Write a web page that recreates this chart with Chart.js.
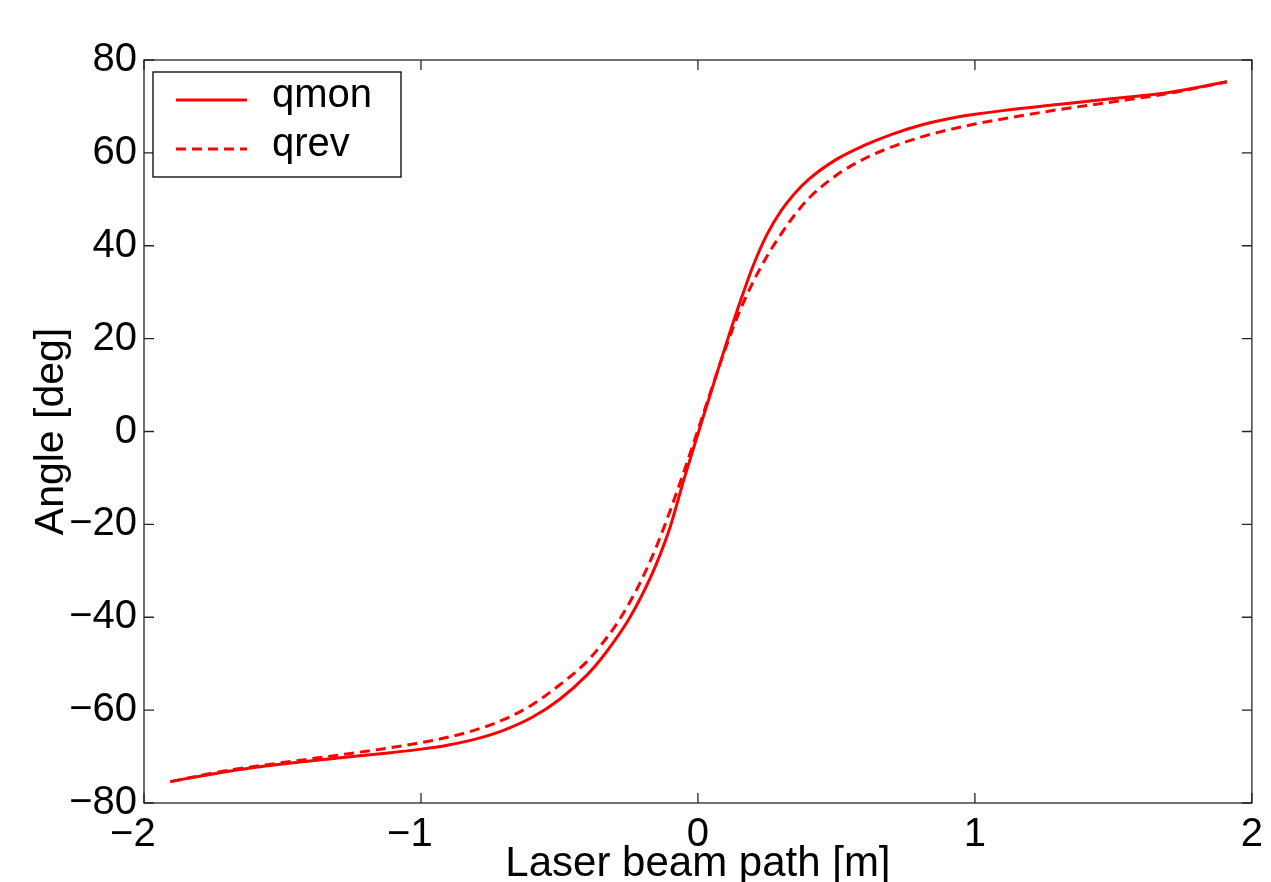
<!DOCTYPE html>
<html>
<head>
<meta charset="utf-8">
<script src="https://cdn.jsdelivr.net/npm/chart.js@4.4.1/dist/chart.umd.min.js"></script>
<style>
  html, body { margin: 0; padding: 0; background: #fff; }
  #wrap { width: 1271px; height: 882px; }
</style>
</head>
<body>
<div id="wrap"><canvas id="chart" width="1271" height="882"></canvas></div>
<script>
// beam path positions [m]
const xs = [-1.905, -1.7, -1.5, -1.3, -1.1, -1.0, -0.9, -0.8, -0.7, -0.6, -0.5, -0.4, -0.35, -0.3, -0.25,
  -0.2, -0.15, -0.1, -0.05, 0, 0.05, 0.1, 0.15, 0.2, 0.25, 0.3, 0.35, 0.4, 0.5, 0.6, 0.7, 0.8, 0.9,
  1.0, 1.1, 1.3, 1.5, 1.7, 1.91];

// angles [deg]
const qmon = [-75.4, -73.2, -71.6, -70.3, -69.1, -68.4, -67.5, -66.2, -64.3, -61.6, -57.7, -52.4, -49.0, -45.0, -40.5,
  -35.0, -28.5, -20.5, -10.2, -0.5, 9.0, 18.5, 27.5, 35.8, 42.5, 47.5, 51.3, 54.3, 58.6, 61.6, 64.0, 65.9, 67.3,
  68.3, 69.1, 70.4, 71.7, 73.0, 75.3];
const qrev = [-75.4, -73.0, -71.3, -69.7, -68.0, -67.0, -65.8, -64.2, -62.0, -58.9, -54.6, -49.5, -46.0, -42.0, -37.2,
  -31.5, -24.8, -17.0, -8.5, 0.3, 9.3, 18.0, 25.8, 32.3, 37.8, 42.5, 46.7, 50.2, 55.2, 58.7, 61.3, 63.3, 64.9,
  66.2, 67.3, 69.3, 71.0, 72.8, 75.3];

const xTicks = [-2, -1, 0, 1, 2];
const yTicks = [-80, -60, -40, -20, 0, 20, 40, 60, 80];

const FONT = '"Liberation Sans", Arial, Helvetica, sans-serif';
const AXIS = "#262626";

function toPoints(ys) {
  return xs.map((x, i) => ({ x: x, y: ys[i] }));
}

function minus(v) {
  return String(v).replace("-", "\u2212");
}

// box around the axes, inward tick marks and the boxed legend
const framePlugin = {
  id: "frame",
  afterDatasetsDraw(chart) {
    const { ctx, chartArea: a, scales } = chart;
    ctx.save();
    ctx.strokeStyle = AXIS;
    ctx.lineWidth = 1.3;
    ctx.strokeRect(a.left, a.top, a.right - a.left, a.bottom - a.top);

    ctx.beginPath();
    xTicks.forEach((v) => {
      const px = scales.x.getPixelForValue(v);
      ctx.moveTo(px, a.bottom); ctx.lineTo(px, a.bottom - 10);
      ctx.moveTo(px, a.top); ctx.lineTo(px, a.top + 10);
    });
    yTicks.forEach((v) => {
      const py = scales.y.getPixelForValue(v);
      ctx.moveTo(a.left, py); ctx.lineTo(a.left + 10, py);
      ctx.moveTo(a.right, py); ctx.lineTo(a.right - 10, py);
    });
    ctx.stroke();

    // legend
    const bx = a.left + 9, by = a.top + 12, bw = 248, bh = 105;
    ctx.fillStyle = "#fff";
    ctx.fillRect(bx, by, bw, bh);
    ctx.strokeStyle = "#000";
    ctx.lineWidth = 1.3;
    ctx.strokeRect(bx, by, bw, bh);

    chart.data.datasets.forEach((ds, i) => {
      const ly = by + 28 + i * 49;
      ctx.strokeStyle = ds.borderColor;
      ctx.lineWidth = ds.borderWidth;
      ctx.setLineDash(ds.borderDash || []);
      ctx.beginPath();
      ctx.moveTo(bx + 23, ly);
      ctx.lineTo(bx + 94, ly);
      ctx.stroke();
      ctx.setLineDash([]);
      ctx.fillStyle = "#000";
      ctx.font = "40px " + FONT;
      ctx.textBaseline = "alphabetic";
      ctx.textAlign = "left";
      ctx.fillText(ds.label, bx + 119, ly + 7);
    });
    ctx.restore();
  }
};

new Chart(document.getElementById("chart"), {
  type: "line",
  data: {
    datasets: [
      {
        label: "qmon",
        data: toPoints(qmon),
        borderColor: "#ff0000",
        borderWidth: 3,
        pointRadius: 0,
        cubicInterpolationMode: "monotone",
        fill: false
      },
      {
        label: "qrev",
        data: toPoints(qrev),
        borderColor: "#ff0000",
        borderWidth: 3,
        borderDash: [10, 6],
        pointRadius: 0,
        cubicInterpolationMode: "monotone",
        fill: false
      }
    ]
  },
  options: {
    responsive: false,
    animation: false,
    devicePixelRatio: 1,
    layout: { padding: { top: 60, right: 14, left: 0, bottom: 0 } },
    plugins: {
      legend: { display: false },
      tooltip: { enabled: false }
    },
    scales: {
      x: {
        type: "linear",
        min: -2,
        max: 2,
        afterFit: (s) => { s.height = 79; },
        afterBuildTicks: (s) => { s.ticks = xTicks.map((v) => ({ value: v })); },
        grid: { display: false, drawTicks: false },
        border: { display: false },
        ticks: {
          color: "#000",
          padding: 8,
          maxRotation: 0,
          font: { family: FONT, size: 40 },
          callback: (v) => (v < 0 ? minus(v) + "  " : String(v))
        },
        title: {
          display: true,
          text: "Laser beam path [m]",
          color: "#000",
          font: { family: FONT, size: 42, lineHeight: 1 },
          padding: { top: 0, bottom: -3 }
        }
      },
      y: {
        type: "linear",
        min: -80,
        max: 80,
        afterFit: (s) => { s.width = 144; },
        afterBuildTicks: (s) => { s.ticks = yTicks.map((v) => ({ value: v })); },
        grid: { display: false, drawTicks: false },
        border: { display: false },
        ticks: {
          color: "#000",
          padding: 7,
          font: { family: FONT, size: 40 },
          callback: (v) => minus(v)
        },
        title: {
          display: true,
          text: "Angle [deg]",
          color: "#000",
          font: { family: FONT, size: 41, lineHeight: 1 },
          padding: { top: 31, bottom: 0 }
        }
      }
    }
  },
  plugins: [framePlugin]
});
</script>
</body>
</html>
